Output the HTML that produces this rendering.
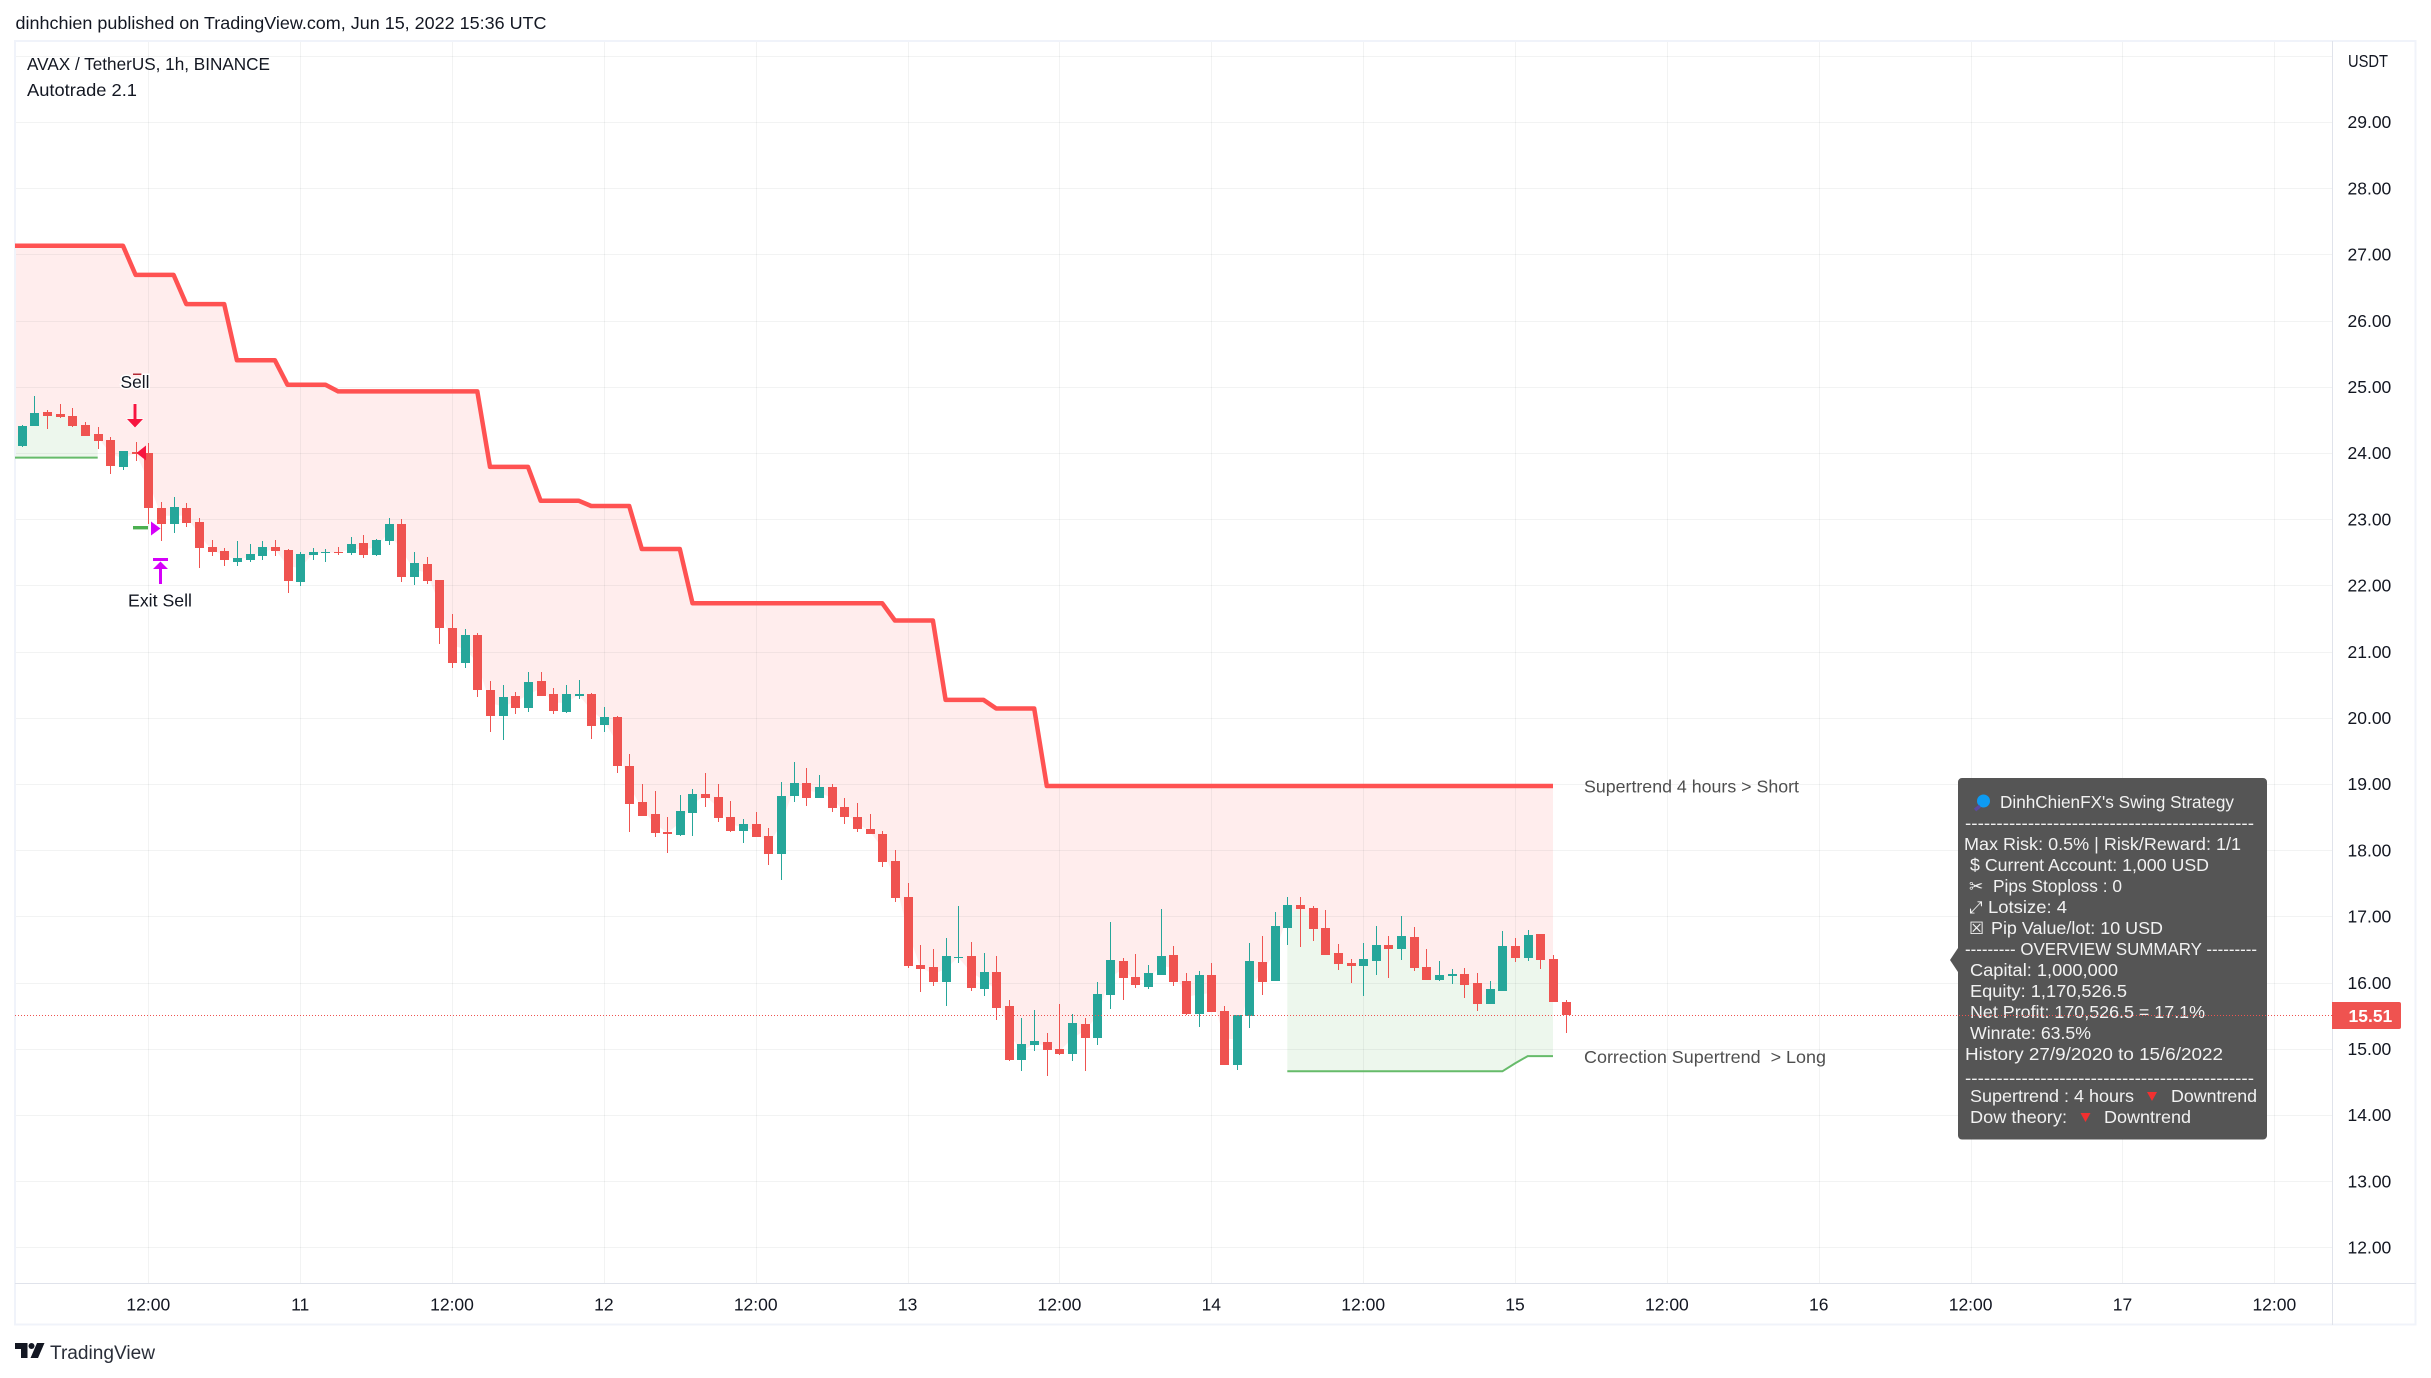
<!DOCTYPE html>
<html lang="en">
<head>
<meta charset="utf-8">
<title>AVAX / TetherUS 1h chart</title>
<style>
html,body{margin:0;padding:0;background:#fff;}
svg{display:block;font-family:"Liberation Sans","DejaVu Sans",sans-serif;}
.axis{font-size:17.5px;fill:#131722;}
.legend{font-size:17.5px;fill:#131722;}
.tip{font-size:17.5px;fill:#f2f2f2;}
.icon{font-family:"DejaVu Sans",sans-serif;font-size:17px;fill:#f2f2f2;}
.note{font-size:17.5px;fill:#4f4f4f;}
.mark{font-size:17.5px;fill:#131722;stroke:#fff;stroke-width:3px;paint-order:stroke;}
</style>
</head>
<body>
<svg id="chart" xmlns="http://www.w3.org/2000/svg" width="2431" height="1378" viewBox="0 0 2431 1378">
  <text class="legend" x="15.5" y="29" textLength="531" lengthAdjust="spacingAndGlyphs">dinhchien published on TradingView.com, Jun 15, 2022 15:36 UTC</text>
  <g id="fills"></g>
  <g id="grid"></g>
  <rect x="15" y="41" width="2400.5" height="1283.5" fill="none" stroke="#f0f3fa" stroke-width="2"/>
  <line x1="2332.5" y1="41" x2="2332.5" y2="1325" stroke="#e0e3eb" stroke-width="1"/>
  <line x1="15" y1="1283.5" x2="2416" y2="1283.5" stroke="#e0e3eb" stroke-width="1"/>
  <g id="lines"></g>
  <g id="candles" shape-rendering="crispEdges"></g>

  <text class="legend" x="27" y="70" textLength="243" lengthAdjust="spacingAndGlyphs">AVAX / TetherUS, 1h, BINANCE</text>
  <text class="legend" x="27" y="96" textLength="110" lengthAdjust="spacingAndGlyphs">Autotrade 2.1</text>
  <text class="axis" x="2348" y="67" textLength="40" lengthAdjust="spacingAndGlyphs">USDT</text>
  <g id="price-ticks"></g>
  <g id="time-ticks"></g>

  <g>
    <rect x="133" y="373.5" width="15" height="1.5" fill="#b22833"/>
    <text class="mark" x="135" y="388" text-anchor="middle" textLength="29" lengthAdjust="spacingAndGlyphs">Sell</text>
    <path d="M133.5 404h3v15h6.5l-8 8.5-8-8.5h6.5z" fill="#f7153f" stroke="#fff" stroke-width="1" paint-order="stroke"/>
    <path d="M136.5 453l9.5-7.5v15z" fill="#f7153f"/>
  </g>
  <g>
    <rect x="133" y="526" width="15" height="3.4" fill="#4caf50"/>
    <path d="M160.5 528.5l-9.5-7v14z" fill="#d500f9"/>
    <path d="M153 558h15v3h-15zM160.5 561.5l7.5 7.5h-6v15h-3v-15h-6z" fill="#d500f9"/>
    <text class="mark" x="160" y="606.5" text-anchor="middle" textLength="64" lengthAdjust="spacingAndGlyphs">Exit Sell</text>
  </g>

  <text class="note" x="1584" y="792.5" textLength="215" lengthAdjust="spacingAndGlyphs">Supertrend 4 hours &gt; Short</text>
  <text class="note" x="1584" y="1063" textLength="242" lengthAdjust="spacingAndGlyphs" xml:space="preserve">Correction Supertrend  &gt; Long</text>

  <g>
    <path d="M1962 778h301a4 4 0 0 1 4 4v353.500a4 4 0 0 1-4 4h-301a4 4 0 0 1-4-4v-163.500l-8-12 8-12v-166a4 4 0 0 1 4-4z" fill="#555"/>
    <circle cx="1983.500" cy="801" r="6.500" fill="#0d9bf2"/>
    <line x1="1980" y1="806" x2="1975" y2="810" stroke="#5b4a9e" stroke-width="3.500"/>
    <text class="tip" x="2000" y="808" textLength="234" lengthAdjust="spacingAndGlyphs">DinhChienFX's Swing Strategy</text>
    <text class="tip" x="1965" y="829" textLength="289" lengthAdjust="spacingAndGlyphs">----------------------------------------------</text>
    <text class="tip" x="1964" y="850" textLength="277" lengthAdjust="spacingAndGlyphs">Max Risk: 0.5% | Risk/Reward: 1/1</text>
    <text class="tip" x="1970" y="871" textLength="239" lengthAdjust="spacingAndGlyphs">$ Current Account: 1,000 USD</text>
    <text class="icon" x="1969" y="892">✂</text>
    <text class="tip" x="1993" y="892" textLength="129" lengthAdjust="spacingAndGlyphs">Pips Stoploss : 0</text>
    <text class="icon" x="1969" y="913">⤢</text>
    <text class="tip" x="1988" y="913" textLength="79" lengthAdjust="spacingAndGlyphs">Lotsize: 4</text>
    <text class="icon" x="1969" y="934">☒</text>
    <text class="tip" x="1991" y="934" textLength="172" lengthAdjust="spacingAndGlyphs">Pip Value/lot: 10 USD</text>
    <text class="tip" x="1965" y="955" textLength="292" lengthAdjust="spacingAndGlyphs">--------- OVERVIEW SUMMARY ---------</text>
    <text class="tip" x="1970" y="976" textLength="148" lengthAdjust="spacingAndGlyphs">Capital: 1,000,000</text>
    <text class="tip" x="1970" y="997" textLength="157" lengthAdjust="spacingAndGlyphs">Equity: 1,170,526.5</text>
    <text class="tip" x="1970" y="1018" textLength="235" lengthAdjust="spacingAndGlyphs">Net Profit: 170,526.5 = 17.1%</text>
    <text class="tip" x="1970" y="1039" textLength="121" lengthAdjust="spacingAndGlyphs">Winrate: 63.5%</text>
    <text class="tip" x="1965" y="1060" textLength="258" lengthAdjust="spacingAndGlyphs">History 27/9/2020 to 15/6/2022</text>
    <text class="tip" x="1965" y="1084" textLength="289" lengthAdjust="spacingAndGlyphs">----------------------------------------------</text>
    <text class="tip" x="1970" y="1102" textLength="164" lengthAdjust="spacingAndGlyphs">Supertrend : 4 hours</text>
    <path d="M2147 1092h10l-5 9z" fill="#f23030"/>
    <text class="tip" x="2171" y="1102" textLength="86" lengthAdjust="spacingAndGlyphs">Downtrend</text>
    <text class="tip" x="1970" y="1123" textLength="97" lengthAdjust="spacingAndGlyphs">Dow theory:</text>
    <path d="M2080.500 1113h10l-5 9z" fill="#f23030"/>
    <text class="tip" x="2104" y="1123" textLength="87" lengthAdjust="spacingAndGlyphs">Downtrend</text>
  </g>

  <g id="last-price"></g>

  <g>
    <path d="M15 1343h12.500v15h-6.500v-9h-6z" fill="#131722"/>
    <circle cx="31.500" cy="1346" r="3" fill="#131722"/>
    <path d="M37 1343h7.500l-6.500 15h-7.500z" fill="#131722"/>
    <text x="50" y="1359" font-size="19" fill="#2a2e39" textLength="105" lengthAdjust="spacingAndGlyphs">TradingView</text>
  </g>
</svg>

<script>
// ---- chart data, one entry per hourly bar starting 10 bars before 12:00 on day 10 ----
const opens = [
 24.11,24.41,24.62,24.59,24.56,24.42,24.29,24.20,23.79,24.02,
 24.00,23.17,22.93,23.17,22.96,22.58,22.52,22.36,22.39,22.44,
 22.58,22.53,22.05,22.46,22.49,22.50,22.49,22.64,22.46,22.67,
 22.93,22.13,22.32,22.08,21.36,20.83,21.25,20.42,20.03,20.33,
 20.15,20.56,20.36,20.09,20.33,20.36,19.89,20.01,19.27,18.73,
 18.55,18.28,18.23,18.56,18.85,18.81,18.50,18.29,18.40,18.22,
 17.95,18.82,19.02,18.79,18.95,18.65,18.50,18.32,18.25,17.84,
 17.30,16.27,16.24,16.01,16.37,16.40,15.91,16.16,15.65,14.83,
 15.05,15.11,15.00,14.92,15.38,15.17,15.82,16.33,16.09,15.94,
 16.12,16.42,16.03,15.53,16.12,15.57,14.76,15.50,16.31,16.03,
 16.82,17.17,17.13,16.83,16.45,16.30,16.25,16.33,16.57,16.51,
 16.69,16.24,16.04,16.10,16.13,16.00,15.68,15.88,16.55,16.37,
 16.73,16.36,15.71];
const closes = [
 24.41,24.60,24.56,24.54,24.41,24.26,24.18,23.80,24.03,23.99,
 23.17,22.93,23.18,22.94,22.57,22.50,22.38,22.41,22.47,22.58,
 22.52,22.06,22.47,22.50,22.50,22.49,22.62,22.46,22.68,22.93,
 22.13,22.34,22.07,21.36,20.83,21.25,20.42,20.03,20.31,20.15,
 20.54,20.33,20.10,20.36,20.36,19.88,20.01,19.27,18.70,18.52,
 18.26,18.25,18.59,18.85,18.79,18.49,18.29,18.40,18.20,17.95,
 18.82,19.02,18.79,18.95,18.64,18.50,18.32,18.25,17.82,17.28,
 16.25,16.21,16.01,16.40,16.39,15.92,16.16,15.62,14.83,15.08,
 15.12,14.98,14.92,15.39,15.17,15.83,16.34,16.07,15.97,16.15,
 16.40,16.01,15.53,16.12,15.56,14.76,15.51,16.33,16.01,16.85,
 17.17,17.11,16.81,16.42,16.28,16.25,16.36,16.57,16.51,16.70,
 16.22,16.04,16.12,16.13,15.97,15.68,15.91,16.55,16.37,16.72,
 16.34,15.71,15.51];
const highs = [
 24.42,24.86,24.65,24.74,24.68,24.47,24.39,24.24,24.03,24.17,
 24.15,23.26,23.34,23.25,23.02,22.69,22.56,22.67,22.62,22.67,
 22.69,22.55,22.50,22.56,22.55,22.58,22.73,22.76,22.70,23.02,
 23.00,22.50,22.43,22.08,21.57,21.34,21.28,20.56,20.50,20.39,
 20.69,20.69,20.45,20.50,20.57,20.38,20.16,20.03,19.45,19.00,
 18.90,18.50,18.83,18.92,19.17,19.00,18.74,18.47,18.58,18.34,
 19.03,19.33,19.24,19.14,19.00,18.79,18.71,18.55,18.29,18.00,
 17.51,16.57,16.51,16.67,17.16,16.62,16.45,16.40,15.74,15.47,
 15.59,15.24,15.68,15.53,15.47,16.01,16.92,16.37,16.43,16.27,
 17.11,16.55,16.15,16.18,16.30,15.65,15.51,16.60,16.70,17.07,
 17.30,17.30,17.16,17.10,16.59,16.36,16.60,16.85,16.70,17.00,
 16.84,16.51,16.33,16.21,16.22,16.15,16.03,16.78,16.67,16.80,
 16.73,16.42,15.74];
const lows = [
 24.09,24.41,24.36,24.53,24.39,24.26,24.06,23.68,23.74,23.88,
 22.93,22.67,22.79,22.88,22.27,22.44,22.29,22.29,22.35,22.39,
 22.44,21.89,21.99,22.38,22.35,22.46,22.46,22.41,22.44,22.61,
 22.05,22.01,22.02,21.11,20.75,20.75,20.31,19.79,19.67,20.05,
 20.09,20.33,20.05,20.07,20.28,19.68,19.79,19.17,18.28,18.52,
 18.20,17.96,18.22,18.22,18.65,18.43,18.28,18.11,18.20,17.78,
 17.55,18.73,18.67,18.79,18.58,18.40,18.28,18.25,17.75,17.22,
 16.22,15.86,15.95,15.65,16.30,15.88,15.80,15.44,14.82,14.67,
 14.96,14.59,14.91,14.82,14.67,15.06,15.60,15.74,15.92,15.91,
 16.12,15.95,15.51,15.33,15.56,14.76,14.68,15.32,15.82,16.03,
 16.57,16.54,16.63,16.42,16.19,15.99,15.80,16.12,16.07,16.34,
 16.18,16.04,16.03,15.98,15.77,15.57,15.68,15.88,16.31,16.33,
 16.20,15.71,15.24];
const supertrend = [
 27.13,27.13,27.13,27.13,27.13,27.13,27.13,27.13,27.13,
 26.69,26.69,26.69,26.69,
 26.25,26.25,26.25,26.25,
 25.40,25.40,25.40,25.40,
 25.03,25.03,25.03,25.03,
 24.93,24.93,24.93,24.93,24.93,24.93,24.93,24.93,24.93,24.93,24.93,24.93,
 23.79,23.79,23.79,23.79,
 23.28,23.28,23.28,23.28,
 23.20,23.20,23.20,23.20,
 22.55,22.55,22.55,22.55,
 21.73,21.73,21.73,21.73,21.73,21.73,21.73,21.73,21.73,21.73,21.73,21.73,21.73,21.73,21.73,21.73,
 21.47,21.47,21.47,21.47,
 20.27,20.27,20.27,20.27,
 20.14,20.14,20.14,20.14,
 18.97,18.97,18.97,18.97,18.97,18.97,18.97,18.97,18.97,18.97,18.97,18.97,18.97,18.97,18.97,18.97,18.97,18.97,18.97,18.97,18.97,
 18.97,18.97,18.97,18.97,18.97,18.97,18.97,18.97,18.97,18.97,18.97,18.97,18.97,18.97,18.97,18.97,18.97,18.97,18.97,18.97];
const longStopEarly = [23.93,23.93,23.93,23.93,23.93,23.93,23.93];
const longStopLate = [
 14.66,14.66,14.66,14.66,14.66,14.66,14.66,14.66,14.66,14.66,14.66,14.66,14.66,14.66,14.66,14.66,14.66,14.66,
 14.78,14.89,14.89,14.89];
const priceTicks = [12,13,14,15,16,17,18,19,20,21,22,23,24,25,26,27,28,29];
const gridPrices = [12,13,14,15,16,17,18,19,20,21,22,23,24,25,26,27,28,29,30];
const timeLabels = ['12:00','11','12:00','12','12:00','13','12:00','14','12:00','15','12:00','16','12:00','17','12:00'];
const lastPrice = 15.51;

// ---- axis functions ----
const plotLeft = 15, plotRight = 2332, plotTop = 41, plotBottom = 1283;
const firstBar = -10, barStep = 151.86 / 12, anchorX = 148.3;
const earlyStart = 0, lateStart = 100;
function xOf(barIndex) { return anchorX + (barIndex + firstBar) * barStep; }
function yOf(price) { return 122 + (29 - price) * 66.2; }
function mid(i) { return (opens[i] + closes[i]) / 2; }

const NS = 'http://www.w3.org/2000/svg';
function make(tag, attrs, parent, text) {
  const el = document.createElementNS(NS, tag);
  for (const k in attrs) el.setAttribute(k, attrs[k]);
  if (text !== undefined) el.textContent = text;
  parent.appendChild(el);
  return el;
}
const fillsG = document.getElementById('fills');
const gridG = document.getElementById('grid');
const linesG = document.getElementById('lines');
const candlesG = document.getElementById('candles');
const priceG = document.getElementById('price-ticks');
const timeG = document.getElementById('time-ticks');
const lastG = document.getElementById('last-price');

// ---- trend fills ----
(function () {
  const top = [[plotLeft, yOf(supertrend[0])]];
  const bottom = [[plotLeft, yOf(mid(0))]];
  supertrend.forEach(function (v, i) {
    top.push([xOf(i), yOf(v)]);
    bottom.push([xOf(i), yOf(mid(i))]);
  });
  const pts = top.concat(bottom.reverse()).map(function (p) { return p[0].toFixed(1) + ',' + p[1].toFixed(1); }).join(' ');
  const pink = make('polygon', { points: pts, fill: 'rgba(255,82,82,0.1)' }, fillsG);
  
  

  function greenZone(values, start, fromLeft) {
    const a = [], b = [];
    if (fromLeft) {
      a.push([plotLeft, yOf(values[0])]);
      b.push([plotLeft, yOf(mid(start))]);
    }
    values.forEach(function (v, k) {
      a.push([xOf(start + k), yOf(v)]);
      b.push([xOf(start + k), yOf(mid(start + k))]);
    });
    return a.concat(b.reverse()).map(function (p) { return p[0].toFixed(1) + ',' + p[1].toFixed(1); }).join(' ');
  }
  const g1 = make('polygon', { points: greenZone(longStopEarly, earlyStart, true), fill: 'rgba(76,175,80,0.1)' }, fillsG);
  
  
  const g2 = make('polygon', { points: greenZone(longStopLate, lateStart, false), fill: 'rgba(76,175,80,0.1)' }, fillsG);
  
  
})();

// ---- grid ----
gridPrices.forEach(function (p) {
  const y = Math.round(yOf(p)) + 0.5;
  const ln = make('line', { x1: plotLeft, x2: plotRight, y1: y, y2: y, stroke: 'rgba(42,46,57,0.06)', 'stroke-width': 1 }, gridG);
  
  
});
timeLabels.forEach(function (t, k) {
  const x = Math.round(xOf(k * 12 - firstBar)) + 0.5;
  const ln = make('line', { x1: x, x2: x, y1: plotTop, y2: plotBottom, stroke: 'rgba(42,46,57,0.06)', 'stroke-width': 1 }, gridG);
  
  
});

// ---- indicator lines ----
(function () {
  const pts = [[plotLeft, yOf(supertrend[0])]];
  supertrend.forEach(function (v, i) { pts.push([xOf(i), yOf(v)]); });
  const st = make('polyline', {
    points: pts.map(function (p) { return p[0].toFixed(1) + ',' + p[1].toFixed(1); }).join(' '),
    fill: 'none', stroke: '#ff5252', 'stroke-width': 4.5, 'stroke-linejoin': 'round'
  }, linesG);
  
  

  const e = [[plotLeft, yOf(longStopEarly[0])]];
  longStopEarly.forEach(function (v, k) { e.push([xOf(earlyStart + k), yOf(v)]); });
  const l1 = make('polyline', {
    points: e.map(function (p) { return p[0].toFixed(1) + ',' + p[1].toFixed(1); }).join(' '),
    fill: 'none', stroke: '#66bb6a', 'stroke-width': 2
  }, linesG);
  
  

  const f = longStopLate.map(function (v, k) { return [xOf(lateStart + k), yOf(v)]; });
  const l2 = make('polyline', {
    points: f.map(function (p) { return p[0].toFixed(1) + ',' + p[1].toFixed(1); }).join(' '),
    fill: 'none', stroke: '#66bb6a', 'stroke-width': 2
  }, linesG);
  
  
})();

// ---- candles ----
opens.forEach(function (o, i) {
  const c = closes[i];
  const color = c >= o ? '#26a69a' : '#ef5350';
  const cx = Math.round(xOf(i));
  const group = make('g', {}, candlesG);
  
  
  const hy = Math.round(yOf(highs[i]));
  const ly = Math.round(yOf(lows[i]));
  const wick = make('rect', { x: cx, y: hy, width: 1, height: Math.max(1, ly - hy), fill: color }, group);
  
  
  const ty = Math.round(yOf(Math.max(o, c)));
  const by = Math.round(yOf(Math.min(o, c)));
  const body = make('rect', { x: cx - 4, y: ty, width: 9, height: Math.max(1, by - ty), fill: color }, group);
  
  
});

// ---- axis labels ----
priceTicks.forEach(function (p) {
  const t = make('text', { class: 'axis', x: 2347.5, y: yOf(p) + 6.2 }, priceG, p.toFixed(2));
  
  
});
timeLabels.forEach(function (s, k) {
  const t = make('text', { class: 'axis', x: xOf(k * 12 - firstBar), y: 1310.5, 'text-anchor': 'middle' }, timeG, s);
  
  
});

// ---- last price line and tag ----
(function () {
  const y = Math.round(yOf(lastPrice)) + 0.5;
  const ln = make('line', { x1: plotLeft, x2: plotRight, y1: y, y2: y, stroke: '#ef5350', 'stroke-width': 1, 'stroke-dasharray': '1 2', 'shape-rendering': 'crispEdges' }, lastG);
  
  
  const tag = make('path', { d: 'M2332 ' + (y - 13.5) + 'h67a2 2 0 0 1 2 2v23a2 2 0 0 1-2 2h-67z', fill: '#ef5350' }, lastG);
  
  
  const label = make('text', { x: 2348.5, y: y + 6.5, 'font-size': '17.5', 'font-weight': 'bold', fill: '#fff' }, lastG, lastPrice.toFixed(2));
  
  
})();
</script>
</body>
</html>
